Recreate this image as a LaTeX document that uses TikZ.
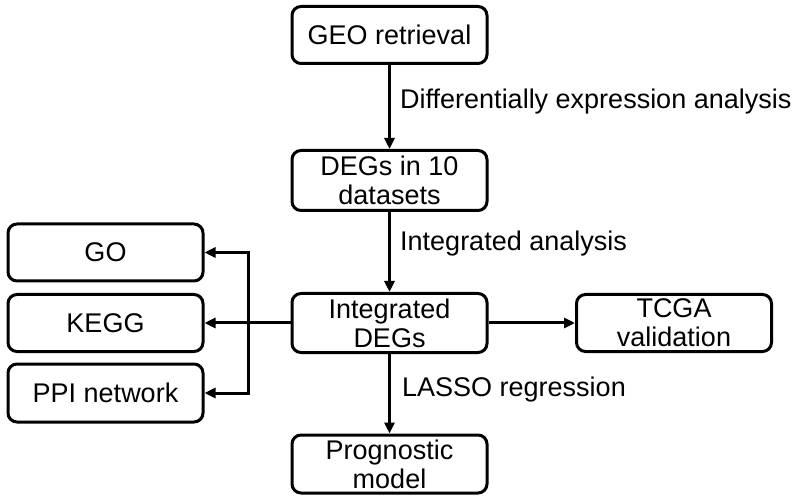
\documentclass[tikz,border=0pt]{standalone}
\usepackage{fontspec}
\setmainfont{Liberation Sans}
\usetikzlibrary{arrows.meta}
\begin{document}
\begin{tikzpicture}[x=1pt,y=-1pt,
  box/.style={draw, line width=3pt, rounded corners=9pt, minimum width=195pt, minimum height=57pt, inner sep=0pt, align=center, font=\fontsize{27}{29}\selectfont},
  conn/.style={line width=3pt, -{Triangle[length=11pt,width=10pt]}},
  lbl/.style={anchor=west, inner sep=0pt, font=\fontsize{27}{29}\selectfont}]
\useasboundingbox (0,0) rectangle (800,502);
\node[box] (geo) at (389.5,35) {GEO retrieval};
\node[box, minimum height=60pt] (deg) at (389.5,180.5) {DEGs in 10\\datasets};
\node[box, minimum height=59pt] (int) at (389.5,323) {Integrated\\DEGs};
\node[box, minimum height=58pt] (prog) at (389.5,464) {Prognostic\\model};
\node[box] (tcga) at (674,323) {TCGA\\validation};
\node[box] (go) at (105.5,252.5) {GO};
\node[box] (kegg) at (105.5,323) {KEGG};
\node[box, minimum height=58pt] (ppi) at (105.5,393) {PPI network};
\coordinate (j) at (248,323);
\draw[conn] (geo) -- (deg);
\draw[conn] (deg) -- (int);
\draw[conn] (int) -- (prog);
\draw[conn] (int) -- (tcga);
\draw[conn] (int) -- (kegg);
\draw[conn] (j) |- (go);
\draw[conn] (j) |- (ppi);
\node[lbl] (l1) at (400,102) {Differentially expression analysis};
\node[lbl] (l2) at (400,244) {Integrated analysis};
\node[lbl] (l3) at (402,390) {LASSO regression};
\end{tikzpicture}
\end{document}
